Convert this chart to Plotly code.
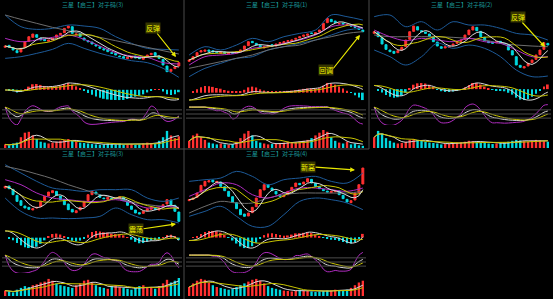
import numpy as np
import pandas as pd
import plotly.graph_objects as go

W, H = 553, 299

# ---------------- data ----------------
TITLES = ["三星【启三】对子码(3)", "三星【启三】对子码(1)", "三星【启三】对子码(2)",
          "三星【启三】对子码(3)", "三星【启三】对子码(4)"]
NOTES = ["反弹", "回调", "反弹", "震荡", "新高"]

BAND_IDX = [0, 4, 8, 12, 16, 20, 24, 28, 32, 36, 40, 44]

P1_CLOSE = [112,108,100,92,105,125,140,148,138,130,128,130,135,145,150,165,172,150,148,140,130,125,118,112,105,100,95,90,85,80,75,78,80,76,74,78,85,90,84,75,55,35,42,50,62]
P1_OPEN = [108,114,106,98,94,108,126,138,146,136,132,126,130,138,146,152,166,170,146,150,136,128,124,116,110,104,102,92,90,82,80,74,76,82,78,72,80,86,92,82,72,52,36,44,52]
P1_VOL = [20,15,25,30,60,85,90,70,50,35,30,25,30,35,40,45,50,40,35,30,28,25,22,20,18,20,25,22,20,25,18,20,22,18,20,25,30,28,25,40,60,95,70,55,65]
P1_UP = [205,170,162,165,175,172,165,140,120,105,102,100]
P1_LO = [75,80,90,102,120,105,90,78,68,62,45,18]
P1_MID = [135,125,130,138,145,132,112,92,82,78,62,58]
P1_LONG = [205,192,180,168,158,148,138,128,118,108,98,88]

P2_CLOSE = [70,80,92,98,100,96,94,92,94,90,92,90,94,100,112,125,122,115,108,110,114,112,118,122,125,128,130,135,140,145,148,150,152,160,180,195,185,182,180,178,176,172,168,162,155]
P2_OPEN = [66,72,82,94,96,100,98,95,90,94,88,93,91,96,102,113,126,120,114,106,110,116,112,119,121,126,127,132,136,141,144,151,148,154,162,182,192,187,178,181,174,175,170,166,160]
P2_VOL = [40,70,80,60,45,30,25,20,25,20,18,22,35,55,80,95,70,40,30,25,20,22,25,28,30,35,30,32,35,40,45,55,70,85,100,90,60,40,30,25,35,20,25,15,12]
P2_UP = [85,110,100,115,135,125,140,150,160,205,200,190]
P2_LO = [20,45,60,75,80,100,110,120,130,145,160,165]
P2_MID = [55,80,85,90,105,110,120,130,145,170,175,165]
P2_LONG = [45,55,65,75,85,100,110,115,130,140,150,155]

P3_CLOSE = [155,140,118,102,95,90,98,108,130,155,172,160,155,150,140,125,112,105,110,112,118,125,130,145,160,170,158,140,128,122,120,125,122,118,100,85,55,48,50,60,70,85,100,122,115]
P3_OPEN = [150,154,138,116,100,96,92,100,110,132,156,170,158,154,148,138,124,110,106,108,114,120,126,132,146,160,168,156,138,126,124,121,126,120,116,98,80,54,46,52,62,72,86,102,120]
P3_VOL = [60,95,80,55,40,30,25,28,35,45,50,45,40,35,30,28,25,20,22,25,28,30,32,35,40,38,35,30,28,25,22,25,28,30,35,40,45,42,38,35,40,45,42,38,35]
P3_UP = [200,205,170,185,160,185,175,175,165,150,145,130]
P3_LO = [100,80,55,80,120,105,115,105,80,40,20,22]
P3_MID = [160,140,128,135,130,125,135,125,120,100,80,80]
P3_LONG = [145,140,140,140,140,138,135,130,120,115,112,110]

P4_CLOSE = [135,128,110,90,78,70,66,68,72,90,105,118,122,108,95,80,65,58,62,72,90,110,120,112,102,98,102,96,100,104,92,78,66,55,52,60,68,72,66,70,80,95,80,60,30]
P4_OPEN = [130,136,126,108,92,76,72,64,70,74,92,106,116,120,106,96,82,66,56,64,74,92,110,118,110,100,96,100,98,98,102,90,76,64,56,54,62,66,70,64,72,82,94,78,58]
P4_VOL = [30,25,20,35,45,55,50,60,65,75,80,95,85,70,60,55,50,45,60,70,85,90,75,60,50,45,40,55,60,50,45,40,35,45,55,60,50,45,40,55,70,90,75,85,100]
P4_UP = [200,175,150,130,125,120,125,125,125,100,90,100]
P4_LO = [100,60,40,40,38,40,45,70,50,35,35,25]
P4_MID = [155,140,115,100,95,90,90,95,85,70,75,72]
P4_LONG = [195,185,172,158,140,125,110,100,88,80,75,70]

P5_CLOSE = [95,100,115,138,150,152,148,150,135,122,105,88,68,50,45,55,72,100,125,140,132,122,112,105,108,120,132,145,140,148,158,145,135,128,122,118,120,122,110,98,88,92,115,140,190]
P5_OPEN = [92,96,102,118,136,148,154,146,148,134,120,104,86,66,52,46,56,74,102,124,140,130,120,110,104,110,122,134,144,142,148,156,144,134,126,121,116,119,121,108,96,86,94,116,142]
P5_VOL = [50,70,85,95,90,75,60,50,45,40,35,40,50,60,70,80,90,95,85,70,55,45,40,35,30,28,25,30,35,30,28,25,22,25,28,30,32,35,30,28,35,45,60,75,85]
P5_UP = [150,155,160,180,165,140,155,160,165,150,145,175]
P5_LO = [45,60,75,45,15,15,50,90,100,95,85,65]
P5_MID = [105,125,145,140,110,100,115,130,130,125,120,130]
P5_LONG = [55,75,90,85,85,100,110,115,115,115,115,120]

PANELS = [
    dict(o=P1_OPEN, c=P1_CLOSE, v=P1_VOL, up=P1_UP, lo=P1_LO, mid=P1_MID, lg=P1_LONG),
    dict(o=P2_OPEN, c=P2_CLOSE, v=P2_VOL, up=P2_UP, lo=P2_LO, mid=P2_MID, lg=P2_LONG),
    dict(o=P3_OPEN, c=P3_CLOSE, v=P3_VOL, up=P3_UP, lo=P3_LO, mid=P3_MID, lg=P3_LONG),
    dict(o=P4_OPEN, c=P4_CLOSE, v=P4_VOL, up=P4_UP, lo=P4_LO, mid=P4_MID, lg=P4_LONG),
    dict(o=P5_OPEN, c=P5_CLOSE, v=P5_VOL, up=P5_UP, lo=P5_LO, mid=P5_MID, lg=P5_LONG),
]

# ---------------- styling / layout ----------------
RED = "#ff3030"
CYAN = "#00d8e0"
BLUE = "#1d5a98"
PURPLE = "#b02cc0"
GREY = "#6e6e6e"
WHITE = "#d8d8d8"
YELLOW = "#c8c400"

PANEL_X = [(2, 182), (186, 366), (371, 551), (2, 182), (186, 366)]
PANEL_Y0 = [0, 0, 0, 148, 148]
SUB_Y = [(11.7, 80), (82, 101), (103, 125), (130, 148)]  # price, macd, osc, volume (px within panel)


def dom_x(a, b):
    return [a / W, b / W]


def dom_y(top, bot):
    return [max(0, 1 - bot / H), min(1, 1 - top / H)]


fig = go.Figure()
layout = dict(width=W, height=H, margin=dict(l=0, r=0, t=0, b=0),
              paper_bgcolor="black", plot_bgcolor="black", showlegend=False,
              bargap=0.3)
shapes = []
annotations = []

for p, d in enumerate(PANELS):
    o = np.array(d["o"], float)
    c = np.array(d["c"], float)
    v = np.array(d["v"], float)
    n = len(c)
    xs = np.arange(n)
    hi = np.maximum(o, c)
    lo = np.minimum(o, c)
    s = pd.Series(c)
    ma5 = s.rolling(5, min_periods=1).mean()
    ma10 = s.rolling(10, min_periods=1).mean()
    ema12 = s.ewm(span=12, adjust=False).mean()
    ema26 = s.ewm(span=26, adjust=False).mean()
    dif = ema12 - ema26
    dea = dif.ewm(span=9, adjust=False).mean()
    hist = 2 * (dif - dea)
    hh = pd.Series(hi).rolling(9, min_periods=1).max()
    ll = pd.Series(lo).rolling(9, min_periods=1).min()
    rsv = ((s - ll) / (hh - ll).replace(0, np.nan) * 100).fillna(50)
    k = rsv.ewm(alpha=1 / 3, adjust=False).mean()
    dd = k.ewm(alpha=1 / 3, adjust=False).mean()
    j = 3 * k - 2 * dd
    vs = pd.Series(v)
    vma5 = vs.rolling(5, min_periods=1).mean()
    vma10 = vs.rolling(10, min_periods=1).mean()
    upcol = [RED if c[i] >= o[i] else CYAN for i in range(n)]

    x0, x1 = PANEL_X[p]
    y0 = PANEL_Y0[p]
    ids = []
    for sidx in range(4):
        idn = p * 4 + sidx + 1
        xname = "xaxis" if idn == 1 else f"xaxis{idn}"
        yname = "yaxis" if idn == 1 else f"yaxis{idn}"
        xr = "x" if idn == 1 else f"x{idn}"
        yr = "y" if idn == 1 else f"y{idn}"
        ids.append((xr, yr))
        t, b = SUB_Y[sidx]
        layout[xname] = dict(domain=dom_x(x0, x1), anchor=yr, range=[-0.8, n - 0.2],
                             showgrid=False, zeroline=False, showticklabels=False,
                             visible=False, rangeslider=dict(visible=False))
        ydict = dict(domain=dom_y(y0 + t, y0 + b), anchor=xr, showgrid=False,
                     zeroline=False, showticklabels=False, visible=False)
        if sidx == 0:
            ydict["range"] = [10, 215]
        elif sidx == 2:
            ydict["range"] = [-30, 130]
        elif sidx == 3:
            ydict["range"] = [0, 100]
        layout[yname] = ydict
    # overlay axis for the MACD lines
    ov = 21 + p
    t, b = SUB_Y[1]
    layout[f"yaxis{ov}"] = dict(overlaying=ids[1][1], anchor=ids[1][0], showgrid=False, zeroline=False,
                                showticklabels=False, visible=False)
    ovref = f"y{ov}"

    # price panel
    xa, ya = ids[0]
    for arr, col in [(d["up"], BLUE), (d["lo"], BLUE), (d["lg"], GREY), (d["mid"], PURPLE)]:
        fig.add_trace(go.Scatter(x=BAND_IDX, y=arr, mode="lines", line=dict(color=col, width=1, shape="spline"),
                                 xaxis=xa, yaxis=ya, hoverinfo="skip"))
    fig.add_trace(go.Candlestick(x=xs, open=o, high=hi, low=lo, close=c, xaxis=xa, yaxis=ya,
                                 increasing=dict(line=dict(color=RED, width=1), fillcolor=RED),
                                 decreasing=dict(line=dict(color=CYAN, width=1), fillcolor=CYAN),
                                 whiskerwidth=0, hoverinfo="skip"))
    fig.add_trace(go.Scatter(x=xs, y=ma10, mode="lines", line=dict(color=YELLOW, width=1),
                             xaxis=xa, yaxis=ya, hoverinfo="skip"))
    fig.add_trace(go.Scatter(x=xs, y=ma5, mode="lines", line=dict(color=WHITE, width=1),
                             xaxis=xa, yaxis=ya, hoverinfo="skip"))

    # MACD
    xa, ya = ids[1]
    fig.add_trace(go.Bar(x=xs, y=hist, marker=dict(color=[RED if h >= 0 else CYAN for h in hist], line=dict(width=0)),
                         width=0.45, xaxis=xa, yaxis=ya, hoverinfo="skip"))
    fig.add_trace(go.Scatter(x=xs, y=dif, mode="lines", line=dict(color=WHITE, width=1, shape="spline"),
                             xaxis=xa, yaxis=ovref, hoverinfo="skip"))
    fig.add_trace(go.Scatter(x=xs, y=dea, mode="lines", line=dict(color=YELLOW, width=1, shape="spline"),
                             xaxis=xa, yaxis=ovref, hoverinfo="skip"))

    # oscillator
    xa, ya = ids[2]
    for lvl in (20, 50, 80):
        shapes.append(dict(type="line", xref=xa, yref=ya, x0=-0.8, x1=n - 0.2, y0=lvl, y1=lvl,
                           line=dict(color="#4c4c4c", width=1)))
    fig.add_trace(go.Scatter(x=xs, y=j, mode="lines", line=dict(color=PURPLE, width=1, shape="spline"),
                             xaxis=xa, yaxis=ya, hoverinfo="skip"))
    fig.add_trace(go.Scatter(x=xs, y=k, mode="lines", line=dict(color=WHITE, width=1, shape="spline"),
                             xaxis=xa, yaxis=ya, hoverinfo="skip"))
    fig.add_trace(go.Scatter(x=xs, y=dd, mode="lines", line=dict(color=YELLOW, width=1, shape="spline"),
                             xaxis=xa, yaxis=ya, hoverinfo="skip"))

    # volume
    xa, ya = ids[3]
    fig.add_trace(go.Bar(x=xs, y=v, marker=dict(color=upcol, line=dict(width=0)), width=0.6,
                         xaxis=xa, yaxis=ya, hoverinfo="skip"))
    fig.add_trace(go.Scatter(x=xs, y=vma5, mode="lines", line=dict(color=WHITE, width=1),
                             xaxis=xa, yaxis=ya, hoverinfo="skip"))
    fig.add_trace(go.Scatter(x=xs, y=vma10, mode="lines", line=dict(color=YELLOW, width=1),
                             xaxis=xa, yaxis=ya, hoverinfo="skip"))

    # title
    annotations.append(dict(text=TITLES[p], x=(x0 + x1) / 2 / W, y=1 - (y0 + 5) / H,
                            xref="paper", yref="paper", showarrow=False,
                            font=dict(size=6, color="#1a9a9a", family="Noto Sans CJK SC"),
                            xanchor="center", yanchor="middle"))

# arrows with labels (label position px, arrow tip px)
ARROWS = [((153, 28), (176, 57)), ((326, 70), (360, 35)), ((518, 17), (545, 47)),
          ((136, 229), (176, 224)), ((308, 167), (355, 170))]
for (lab, tip), txt in zip(ARROWS, NOTES):
    lx, ly = lab
    tx, ty = tip
    annotations.append(dict(x=tx / W, y=1 - ty / H, xref="paper", yref="paper",
                            ax=lx - tx + (6 if txt in ("回调", "震荡", "新高") else 3),
                            ay=ly - ty + (0 if txt in ("回调", "震荡", "新高") else 4),
                            showarrow=True, arrowhead=2, arrowsize=0.8, arrowwidth=1.2,
                            arrowcolor="#e8e800", text=""))
    annotations.append(dict(text=txt, x=lx / W, y=1 - ly / H, xref="paper", yref="paper",
                            showarrow=False, font=dict(size=7, color="#f0f000", family="Noto Sans CJK SC"),
                            bgcolor="rgba(90,90,0,0.6)", borderpad=0,
                            xanchor="center", yanchor="middle"))

# separators
shapes.append(dict(type="line", xref="paper", yref="paper", x0=184 / W, x1=184 / W, y0=0, y1=1,
                   line=dict(color="#4a4a4a", width=1)))
shapes.append(dict(type="line", xref="paper", yref="paper", x0=369 / W, x1=369 / W, y0=1 - 149 / H, y1=1,
                   line=dict(color="#4a4a4a", width=1)))
shapes.append(dict(type="line", xref="paper", yref="paper", x0=0, x1=369 / W, y0=1 - 149 / H, y1=1 - 149 / H,
                   line=dict(color="#4a4a4a", width=1)))

layout["shapes"] = shapes
layout["annotations"] = annotations
fig.update_layout(**layout)
fig.write_html("out.html")
